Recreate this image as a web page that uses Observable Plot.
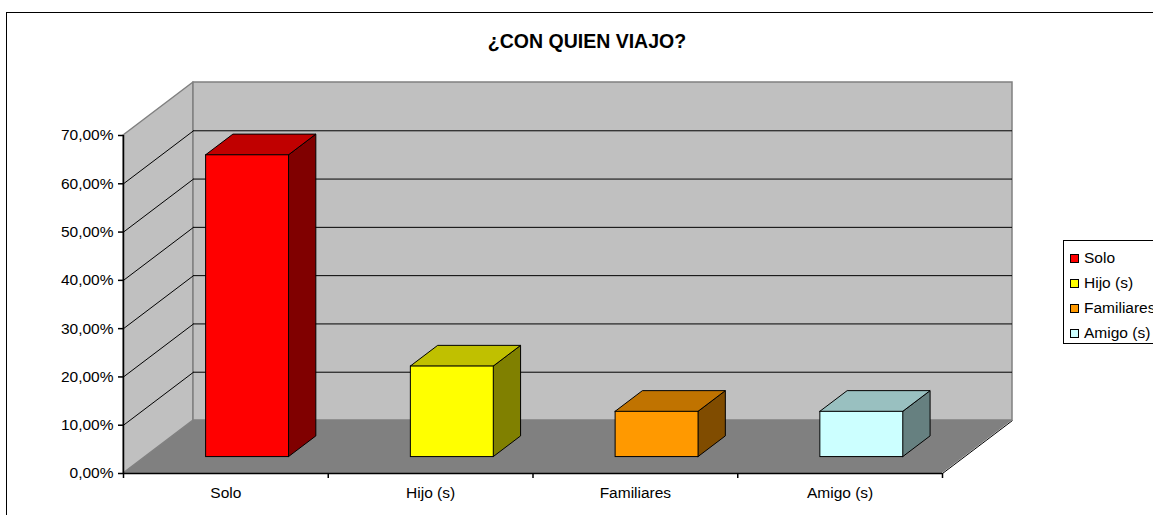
<!DOCTYPE html>
<html>
<head>
<meta charset="utf-8">
<script src="https://cdn.jsdelivr.net/npm/d3@7"></script>
<script src="https://cdn.jsdelivr.net/npm/@observablehq/plot@0.6"></script>
<style>
  html, body { margin: 0; padding: 0; background: #fff; overflow: hidden; width: 1153px; height: 515px; }
  body { position: relative; font-family: "Liberation Sans", Arial, sans-serif; }
  #frame { position: absolute; left: 6px; top: 12px; width: 1300px; height: 700px; border: 1.5px solid #000; pointer-events: none; z-index: 5; }
  #chart { position: absolute; left: 0; top: 0; }
  #title { position: absolute; left: 0; top: 31px; width: 1174px; text-align: center; font-weight: bold; font-size: 19.5px; line-height: 20px; color: #000; }
  #legend { position: absolute; left: 1063px; top: 240px; width: 200px; height: 104px; border: 1px solid #000; background: #fff; padding-top: 4px; box-sizing: border-box; }
  .item { height: 25px; line-height: 25px; font-size: 15.5px; white-space: nowrap; padding-left: 6px; }
  .sw { display: inline-block; width: 7px; height: 7px; border: 1px solid #000; margin-right: 5px; vertical-align: 0px; }
</style>
</head>
<body>
<div id="chart"></div>
<div id="title">¿CON QUIEN VIAJO?</div>
<div id="legend"></div>
<div id="frame"></div>
<script>
// ---- data ----
const categories = ["Solo", "Hijo (s)", "Familiares", "Amigo (s)"];
const values = [62.5, 18.75, 9.375, 9.375];
const frontColors = ["#ff0000", "#ffff00", "#ff9900", "#ccffff"];
const topColors = ["#c00000", "#c0c000", "#c07300", "#99c0c0"];
const sideColors = ["#800000", "#808000", "#804c00", "#668080"];
const yTicks = [0, 10, 20, 30, 40, 50, 60, 70];
const yTickLabels = ["0,00%", "10,00%", "20,00%", "30,00%", "40,00%", "50,00%", "60,00%", "70,00%"];
const gridVals = [10, 20, 30, 40, 50, 60];

// ---- layout (3D projection constants, in pixels) ----
const W_ = 1153, H_ = 515;
const mLeft = 123, mBottom = 42, mTop = 82;
const bandPx = 204.75;
const pxPerPct = 338 / 70;
const depthPxX = 70, depthPxY = 53;
const n = categories.length;
const DX = depthPxX / bandPx;      // depth offset in x units
const DY = depthPxY / pxPerPct;    // depth offset in y units
const yMax = yTicks[yTicks.length - 1];
const mRight = W_ - (mLeft + n * bandPx + depthPxX);
const TB = 0.31, TD = 0.39, BW = 0.405;

const bars = categories.map((c, i) => {
  const L = i + 0.5 - BW / 2 + TB * DX, R = i + 0.5 + BW / 2 + TB * DX, b = TB * DY, v = values[i];
  return {c, v, L, R, b, front: frontColors[i], top: topColors[i], side: sideColors[i]};
});
const topFaces = bars.flatMap(d => [
  {c: d.c, y: d.v + d.b, x1: d.L, x2: d.R, fill: d.top},
  {c: d.c, y: d.v + d.b + TD * DY, x1: d.L + TD * DX, x2: d.R + TD * DX, fill: d.top}
]);
const sideFaces = bars.flatMap(d => [
  {c: d.c, x: d.R, y1: d.b, y2: d.v + d.b, fill: d.side},
  {c: d.c, x: d.R + TD * DX, y1: d.b + TD * DY, y2: d.v + d.b + TD * DY, fill: d.side}
]);

const chart = Plot.plot({
  width: W_, height: H_,
  marginLeft: mLeft, marginRight: mRight, marginTop: mTop, marginBottom: mBottom,
  x: {domain: [0, n + DX], axis: null},
  y: {domain: [0, yMax + DY], axis: null},
  color: {type: "identity"},
  style: {background: "transparent", fontFamily: "'Liberation Sans', Arial, sans-serif", fontSize: "15.5px", color: "#000", overflow: "visible"},
  marks: [
    // floor
    Plot.areaX([{y: 0, x1: 0, x2: n}, {y: DY, x1: DX, x2: n + DX}], {y: "y", x1: "x1", x2: "x2", fill: "#808080"}),
    Plot.link([0], {x1: () => n, y1: () => 0, x2: () => n + DX, y2: () => DY, stroke: "#000", strokeWidth: 1}),
    // left wall
    Plot.areaY([{x: 0, y1: 0, y2: yMax}, {x: DX, y1: DY, y2: yMax + DY}], {x: "x", y1: "y1", y2: "y2", fill: "#c0c0c0", stroke: "#808080", strokeWidth: 1.5}),
    // back wall
    Plot.rect([0], {x1: () => DX, x2: () => n + DX, y1: () => DY, y2: () => yMax + DY, fill: "#c0c0c0", stroke: "#808080", strokeWidth: 1.5}),
    // gridlines
    Plot.ruleY(gridVals, {y: d => d + DY, x1: () => DX, x2: () => n + DX, stroke: "#000", strokeWidth: 1}),
    Plot.link(gridVals, {x1: () => 0, y1: d => d, x2: () => DX, y2: d => d + DY, stroke: "#000", strokeWidth: 1}),
    // bars: side, top, front
    Plot.areaY(sideFaces, {x: "x", y1: "y1", y2: "y2", z: "c", fill: "fill", stroke: "#000", strokeWidth: 1}),
    Plot.areaX(topFaces, {y: "y", x1: "x1", x2: "x2", z: "c", fill: "fill", stroke: "#000", strokeWidth: 1}),
    Plot.rect(bars, {x1: "L", x2: "R", y1: "b", y2: d => d.v + d.b, fill: "front", stroke: "#000", strokeWidth: 1}),
    // axes
    Plot.ruleX([0], {y1: () => 0, y2: () => yMax, stroke: "#000", strokeWidth: 1.5}),
    Plot.ruleY([0], {x1: () => 0, x2: () => n, stroke: "#000", strokeWidth: 1.5}),
    Plot.axisY(yTicks, {anchor: "left", tickSize: 5, tickPadding: 5, stroke: "#000", strokeWidth: 1.5, fill: "#000", fontSize: 15.5, tickFormat: d => yTickLabels[yTicks.indexOf(d)]}),
    Plot.axisX(d3.range(n + 1), {anchor: "bottom", tickSize: 5, stroke: "#000", strokeWidth: 1.5, tickFormat: () => ""}),
    Plot.axisX(categories.map((c, i) => i + 0.5), {anchor: "bottom", tickSize: 0, tickPadding: 13, fill: "#000", fontSize: 15.5, tickFormat: d => categories[Math.floor(d)]})
  ]
});
document.getElementById("chart").appendChild(chart);

// legend
const lg = document.getElementById("legend");
categories.forEach((c, i) => {
  const row = document.createElement("div");
  row.className = "item";
  const sw = document.createElement("span");
  sw.className = "sw";
  sw.style.background = frontColors[i];
  row.appendChild(sw);
  row.appendChild(document.createTextNode(c));
  lg.appendChild(row);
});
</script>
</body>
</html>
